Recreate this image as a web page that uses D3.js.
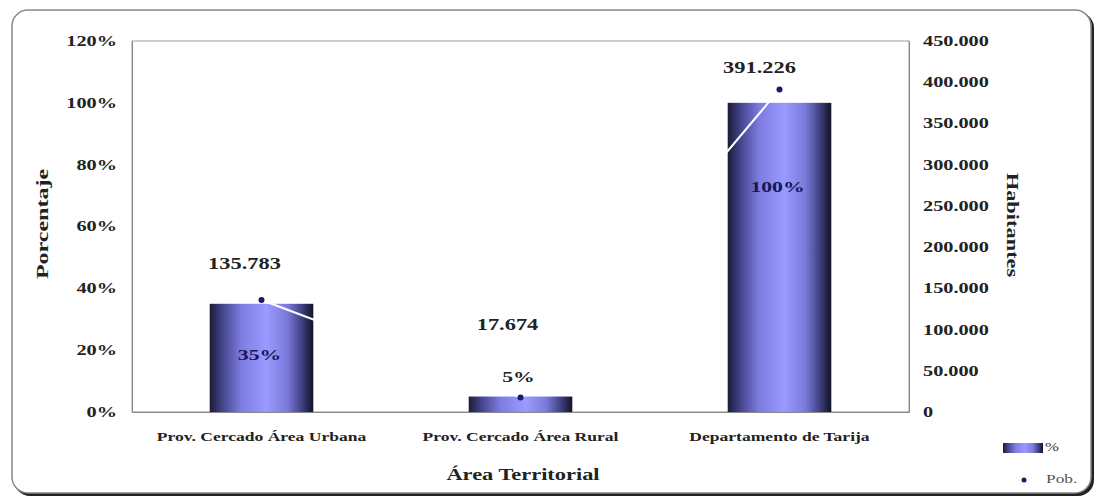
<!DOCTYPE html>
<html>
<head>
<meta charset="utf-8">
<script src="https://cdn.jsdelivr.net/npm/d3@7"></script>
<style>
  html, body { margin: 0; padding: 0; background: #fff; }
  svg { display: block; }
  text { font-family: "Liberation Serif", "Times New Roman", serif; }
</style>
</head>
<body>
<svg id="chart" width="1102" height="499"></svg>
<script>
// ---- Data ----
const categories = ["Prov. Cercado Área Urbana", "Prov. Cercado Área Rural", "Departamento de Tarija"];
const percentValues = [35, 5, 100];
const popValues = [135783, 17674, 391226];
const percentLabels = ["35%", "5%", "100%"];
const popLabels = ["135.783", "17.674", "391.226"];
const leftTicks = [0, 20, 40, 60, 80, 100, 120];
const rightTicks = [0, 50000, 100000, 150000, 200000, 250000, 300000, 350000, 400000, 450000];

// ---- Layout ----
const plot = { left: 132, right: 909, top: 41, bottom: 412 };
const popLabelOffsets = [[-17, -35], [-13, -71], [-20, -20]];
const pctLabelY = [357, 379, 189];

const svg = d3.select("#chart");
const defs = svg.append("defs");

// horizontally stretch text (the source glyphs are wide)
function stretch(sel, sx) {
  sel.each(function () {
    const t = d3.select(this);
    const xv = +t.attr("x") || 0;
    t.attr("x", xv / sx);
    const tr = t.attr("transform") || "";
    t.attr("transform", (tr + ` scale(${sx},1)`).trim());
  });
}

const grad = defs.append("linearGradient").attr("id", "barGrad")
  .attr("x1", "0%").attr("x2", "100%").attr("y1", "0%").attr("y2", "0%");
[[0, "#1c1c38"], [0.12, "#43438a"], [0.3, "#7b7be0"], [0.55, "#9a9aff"], [0.75, "#7a7ada"], [0.9, "#3b3b7a"], [1, "#121226"]]
  .forEach(([o, c]) => grad.append("stop").attr("offset", o).attr("stop-color", c));

// outer rounded frame with shadow
svg.append("rect").attr("x", 14).attr("y", 12).attr("width", 1080).attr("height", 484)
  .attr("rx", 16).attr("fill", "#222");
svg.append("rect").attr("x", 12).attr("y", 10).attr("width", 1079).attr("height", 483)
  .attr("rx", 16).attr("fill", "#fff").attr("stroke", "#888").attr("stroke-width", 1.5);

const x = d3.scaleBand().domain(categories).range([plot.left, plot.right]).paddingInner(0).paddingOuter(0);
const yL = d3.scaleLinear().domain([0, 120]).range([plot.bottom, plot.top]);
const yR = d3.scaleLinear().domain([0, 450000]).range([plot.bottom, plot.top]);

// plot area frame
svg.append("rect").attr("x", plot.left).attr("y", plot.top)
  .attr("width", plot.right - plot.left).attr("height", plot.bottom - plot.top)
  .attr("fill", "#fff").attr("stroke", "#999").attr("stroke-width", 1);

// left axis
const axL = svg.append("g").attr("transform", `translate(${plot.left},0)`)
  .call(d3.axisLeft(yL).tickValues(leftTicks).tickFormat(d => d + "%").tickSize(0).tickPadding(15));
axL.select(".domain").attr("stroke", "#888");
axL.selectAll("text").attr("font-size", 14).attr("font-weight", "bold").attr("fill", "#222")
  .style("font-family", "Liberation Serif").call(stretch, 1.45);

// right axis
const fmt = d => d === 0 ? "0" : d3.format(",")(d).replace(/,/g, ".");
const axR = svg.append("g").attr("transform", `translate(${plot.right},0)`)
  .call(d3.axisRight(yR).tickValues(rightTicks).tickFormat(fmt).tickSize(0).tickPadding(14));
axR.select(".domain").attr("stroke", "#888");
axR.selectAll("text").attr("font-size", 14).attr("font-weight", "bold").attr("fill", "#222")
  .style("font-family", "Liberation Serif").call(stretch, 1.45);

// x axis labels
const axB = svg.append("g").attr("transform", `translate(0,${plot.bottom})`)
  .call(d3.axisBottom(x).tickSize(0).tickPadding(20));
axB.select(".domain").attr("stroke", "#888");
axB.selectAll("text").attr("font-size", 13).attr("font-weight", "bold").attr("fill", "#222")
  .style("font-family", "Liberation Serif").call(stretch, 1.35);

// bars
const bw = x.bandwidth() * 0.4;
svg.append("g").selectAll("rect").data(categories).join("rect")
  .attr("x", d => x(d) + x.bandwidth() / 2 - bw / 2)
  .attr("y", (d, i) => yL(percentValues[i]))
  .attr("width", bw)
  .attr("height", (d, i) => plot.bottom - yL(percentValues[i]))
  .attr("fill", "url(#barGrad)");

// pob line (white) and points
const cx = d => x(d) + x.bandwidth() / 2;
svg.append("path").datum(categories)
  .attr("d", d3.line().x(d => cx(d)).y((d, i) => yR(popValues[i])))
  .attr("fill", "none").attr("stroke", "#fff").attr("stroke-width", 2);
svg.append("g").selectAll("circle").data(categories).join("circle")
  .attr("cx", cx).attr("cy", (d, i) => yR(popValues[i])).attr("r", 3)
  .attr("fill", "#1a1a6a");

// pob labels
svg.append("g").selectAll("text").data(categories).join("text")
  .attr("transform", (d, i) => `translate(${cx(d) + popLabelOffsets[i][0]},${yR(popValues[i]) + popLabelOffsets[i][1]})`)
  .attr("text-anchor", "middle").attr("dominant-baseline", "middle")
  .attr("font-size", 16).attr("font-weight", "bold").attr("fill", "#222")
  .text((d, i) => popLabels[i]).call(stretch, 1.4);

// percent labels
svg.append("g").selectAll("text").data(categories).join("text")
  .attr("transform", (d, i) => `translate(${cx(d) - 2},${pctLabelY[i]})`)
  .attr("text-anchor", "middle").attr("dominant-baseline", "middle")
  .attr("font-size", 14).attr("font-weight", "bold")
  .attr("fill", (d, i) => i === 1 ? "#222" : "#16165a")
  .text((d, i) => percentLabels[i]).call(stretch, 1.55);

// axis titles
svg.append("text").attr("transform", `translate(44,224) rotate(-90)`)
  .attr("text-anchor", "middle").attr("dominant-baseline", "middle")
  .attr("font-size", 16).attr("font-weight", "bold").attr("fill", "#222").text("Porcentaje")
  .call(stretch, 1.5);
svg.append("text").attr("transform", `translate(1011,225) rotate(90)`)
  .attr("text-anchor", "middle").attr("dominant-baseline", "middle")
  .attr("font-size", 16).attr("font-weight", "bold").attr("fill", "#222").text("Habitantes")
  .call(stretch, 1.4);
svg.append("text").attr("transform", `translate(523,476)`)
  .attr("text-anchor", "middle").attr("dominant-baseline", "middle")
  .attr("font-size", 16).attr("font-weight", "bold").attr("fill", "#222").text("Área Territorial")
  .call(stretch, 1.4);

// legend
svg.append("rect").attr("x", 1003).attr("y", 443).attr("width", 40).attr("height", 10)
  .attr("fill", "url(#barGrad)");
svg.append("text").attr("transform", "translate(1045,448)").attr("dominant-baseline", "middle")
  .attr("font-size", 12).attr("fill", "#333").text("%").call(stretch, 1.4);
svg.append("circle").attr("cx", 1024).attr("cy", 480).attr("r", 2.5).attr("fill", "#1a1a6a");
svg.append("text").attr("transform", "translate(1046,480)").attr("dominant-baseline", "middle")
  .attr("font-size", 12).attr("fill", "#555").text("Pob.").call(stretch, 1.45);
</script>
</body>
</html>
